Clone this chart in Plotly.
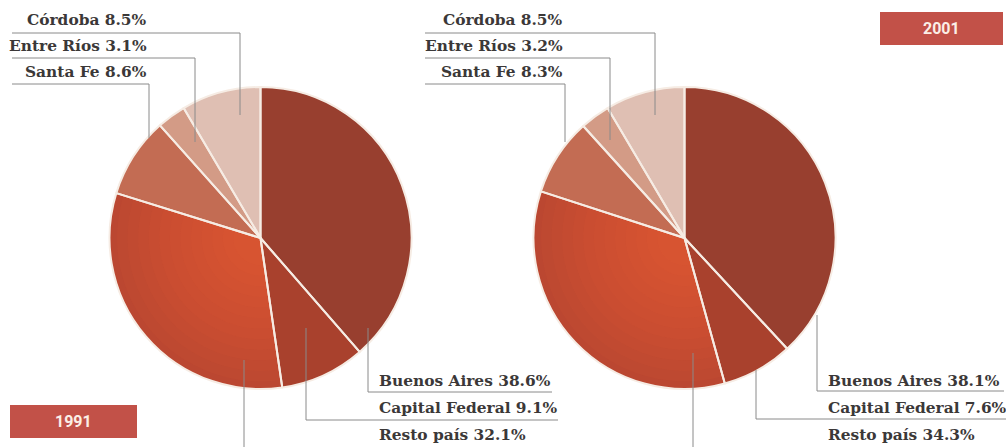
import plotly.graph_objects as go

# ---------------- data ----------------
categories = ["Buenos Aires", "Capital Federal", "Resto país", "Santa Fe", "Entre Ríos", "Córdoba"]
values_1991 = [38.6, 9.1, 32.1, 8.6, 3.1, 8.5]
values_2001 = [38.1, 7.6, 34.3, 8.3, 3.2, 8.5]
years = ["1991", "2001"]

# ---------------- style ----------------
W, H = 1006, 447
slice_colors = ["#983f2f", "#a9412d", "#bb4731", "#c36c53", "#d39b86", "#dfbfb3"]
sep_color = "#f6ece4"
text_color = "#3b3838"
line_color = "#8a8a8a"
box_color = "#c25148"
label_font = dict(family="DejaVu Serif", size=15.4, color=text_color)

def px(x):
    return x / W

def py(y):
    return 1 - y / H

# pie geometry in pixels: centre x, centre y, radius
pies = [
    dict(cx=260.5, cy=238, r=151, values=values_1991),
    dict(cx=684.5, cy=238, r=151, values=values_2001),
]

# leader layout (pixels): text anchor x, text y, underline y, underline x0, x1, vertical x, vertical end y
leaders = [
    {
        "Córdoba":         dict(side="top", tx=149, ty=20, uy=33, ux0=12, ux1=240, vx=240, vy=115),
        "Entre Ríos":      dict(side="top", tx=149, ty=46, uy=58, ux0=12, ux1=195, vx=195, vy=142),
        "Santa Fe":        dict(side="top", tx=149, ty=72, uy=84, ux0=12, ux1=149, vx=149, vy=138),
        "Buenos Aires":    dict(side="bot", tx=377, ty=381, uy=392, ux0=368, ux1=552, vx=368, vy=328),
        "Capital Federal": dict(side="bot", tx=377, ty=408, uy=420, ux0=306, ux1=558, vx=306, vy=328),
        "Resto país":      dict(side="bot", tx=377, ty=435, uy=449, ux0=244, ux1=540, vx=244, vy=360),
    },
    {
        "Córdoba":         dict(side="top", tx=565, ty=20, uy=33, ux0=425, ux1=655, vx=655, vy=115),
        "Entre Ríos":      dict(side="top", tx=565, ty=46, uy=58, ux0=425, ux1=610, vx=610, vy=140),
        "Santa Fe":        dict(side="top", tx=565, ty=72, uy=84, ux0=425, ux1=565, vx=565, vy=142),
        "Buenos Aires":    dict(side="bot", tx=826, ty=381, uy=391, ux0=817, ux1=1004, vx=817, vy=315),
        "Capital Federal": dict(side="bot", tx=826, ty=408, uy=419, ux0=756, ux1=1006, vx=756, vy=370),
        "Resto país":      dict(side="bot", tx=826, ty=435, uy=449, ux0=693, ux1=1000, vx=693, vy=353),
    },
]

year_boxes = [
    dict(x0=10, x1=137, y0=405, y1=438),
    dict(x0=880, x1=1003, y0=12, y1=45),
]

glow_scales = [0.95, 0.88, 0.81, 0.74, 0.67, 0.60, 0.53, 0.46, 0.39, 0.32, 0.25, 0.18]

fig = go.Figure()

for p in pies:
    def dom(scale):
        rr = p["r"] * scale
        return dict(x=[px(p["cx"] - rr), px(p["cx"] + rr)],
                    y=[py(p["cy"] + rr), py(p["cy"] - rr)])
    common = dict(labels=categories, values=p["values"], sort=False, direction="clockwise",
                  rotation=0, textinfo="none", hoverinfo="label+percent", showlegend=False)
    # base pie
    fig.add_trace(go.Pie(domain=dom(1.0), marker=dict(colors=slice_colors, line=dict(width=0)), **common))
    # soft radial glow on "Resto país"
    for s in glow_scales:
        cols = ["rgba(0,0,0,0)"] * len(categories)
        cols[2] = "rgba(236,104,62,0.07)"
        fig.add_trace(go.Pie(domain=dom(s), marker=dict(colors=cols, line=dict(width=0)),
                             **common))
    # separators
    fig.add_trace(go.Pie(domain=dom(1.0),
                         marker=dict(colors=["rgba(0,0,0,0)"] * len(categories),
                                     line=dict(color=sep_color, width=2)), **common))

shapes = []
annotations = []
for p, lay in zip(pies, leaders):
    for cat, val in zip(categories, p["values"]):
        L = lay[cat]
        shapes.append(dict(type="line", xref="paper", yref="paper",
                           x0=px(L["ux0"]), x1=px(L["ux1"]), y0=py(L["uy"]), y1=py(L["uy"]),
                           line=dict(color=line_color, width=1)))
        shapes.append(dict(type="line", xref="paper", yref="paper",
                           x0=px(L["vx"]), x1=px(L["vx"]), y0=py(L["uy"]), y1=py(L["vy"]),
                           line=dict(color=line_color, width=1)))
        annotations.append(dict(xref="paper", yref="paper", x=px(L["tx"]), y=py(L["ty"]),
                                xanchor="right" if L["side"] == "top" else "left",
                                yanchor="middle", showarrow=False,
                                text=f"<b>{cat} {val:.1f}%</b>", font=label_font))

for yr, b in zip(years, year_boxes):
    shapes.append(dict(type="rect", xref="paper", yref="paper",
                       x0=px(b["x0"]), x1=px(b["x1"]), y0=py(b["y1"]), y1=py(b["y0"]),
                       fillcolor=box_color, line=dict(width=0), layer="below"))
    annotations.append(dict(xref="paper", yref="paper", x=px((b["x0"] + b["x1"]) / 2),
                            y=py((b["y0"] + b["y1"]) / 2), xanchor="center", yanchor="middle",
                            showarrow=False, text=f"<b>{yr}</b>",
                            font=dict(family="Roboto", size=16, color="#fbeee6")))

fig.update_layout(width=W, height=H, margin=dict(l=0, r=0, t=0, b=0),
                  paper_bgcolor="white", plot_bgcolor="white",
                  shapes=shapes, annotations=annotations)

fig.write_html("out.html", config={"displayModeBar": False},
               post_script="document.body.style.margin='0';document.body.style.overflow='hidden';")
